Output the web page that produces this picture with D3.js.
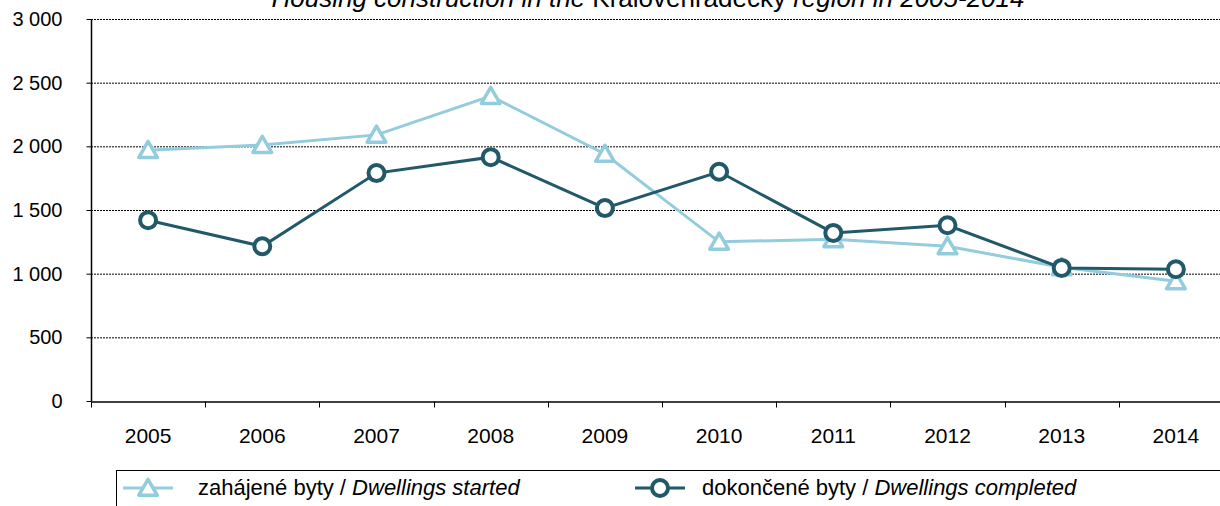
<!DOCTYPE html>
<html lang="en">
  <head>
    <meta charset="utf-8">
    <title>Housing construction</title>
    <style>
      body { margin: 0; background: #fff; }
      svg { display: block; font-family: "Liberation Sans", Arial, sans-serif; }
    </style>
  </head>
  <body>
    <div class="graph"></div>
    <script src="https://d3js.org/d3.v7.min.js"></script>
    <script>
      var years = ['2005', '2006', '2007', '2008', '2009', '2010', '2011', '2012', '2013', '2014'];
      var started = [1970, 2010, 2090, 2395, 1940, 1250, 1270, 1215, 1050, 940];
      var completed = [1420, 1215, 1790, 1915, 1515, 1800, 1320, 1380, 1045, 1035];
      var yTicks = [0, 500, 1000, 1500, 2000, 2500, 3000];

      var lightBlue = '#93cddd',
          darkTeal = '#215968';

      var width = 1220, height = 506;
      var svg = d3.select('.graph').append('svg')
                  .attr('width', width)
                  .attr('height', height);

      var x = d3.scaleBand().domain(years).range([91, 1233]);
      var y = d3.scaleLinear().domain([0, 3000]).range([401, 19]);

      // title (cut off at the top)
      var title = svg.append('text')
                     .attr('x', 648)
                     .attr('y', 7)
                     .attr('text-anchor', 'middle')
                     .style('font-size', '26px');
      title.append('tspan').style('font-style', 'italic').text('Housing construction in the ');
      title.append('tspan').text('Královéhradecký');
      title.append('tspan').style('font-style', 'italic').text(' region in 2005-2014');

      // gridlines
      svg.append('g').selectAll('line')
         .data(yTicks.filter(function(d) { return d > 0; }))
         .enter().append('line')
         .attr('x1', 91).attr('x2', width)
         .attr('y1', function(d) { return y(d) + 0.5; })
         .attr('y2', function(d) { return y(d) + 0.5; })
         .attr('stroke', '#000')
         .attr('stroke-width', 1)
         .attr('stroke-dasharray', '2,1');

      // y axis
      var yAxis = svg.append('g')
                     .attr('transform', 'translate(91.5,0)')
                     .call(d3.axisLeft(y).tickValues(yTicks).tickSize(5).tickPadding(24)
                       .tickFormat(function(d) { return d3.format(',')(d).replace(',', ' '); }));
      yAxis.select('.domain').attr('d', 'M0,' + y(3000) + 'V' + y(0)).attr('stroke', '#000').attr('stroke-width', 1.5);
      yAxis.selectAll('text').style('font-size', '20px').attr('fill', '#000').style('font-family', '"Liberation Sans", Arial, sans-serif');

      // x axis
      var xAxis = svg.append('g')
                     .attr('transform', 'translate(0,401.5)')
                     .call(d3.axisBottom(x).tickSize(0).tickPadding(27));
      xAxis.select('.domain').attr('stroke', '#000').attr('stroke-width', 1.5);
      xAxis.selectAll('text').style('font-size', '21px').attr('fill', '#000').style('font-family', '"Liberation Sans", Arial, sans-serif');
      xAxis.selectAll('.boundary')
           .data(years)
           .enter().append('line')
           .attr('class', 'boundary')
           .attr('x1', function(d) { return Math.round(x(d)) + 0.5; })
           .attr('x2', function(d) { return Math.round(x(d)) + 0.5; })
           .attr('y1', 0).attr('y2', 6)
           .attr('stroke', '#000');

      function cx(d, i) { return x(years[i]) + x.bandwidth() / 2; }

      var line = d3.line()
                   .x(function(d, i) { return cx(d, i); })
                   .y(function(d) { return y(d); });

      var triangle = d3.symbol().type(d3.symbolTriangle).size(150);

      // started series
      svg.append('path')
         .datum(started)
         .attr('d', line)
         .attr('fill', 'none')
         .attr('stroke', lightBlue)
         .attr('stroke-width', 3);
      svg.append('g').selectAll('path')
         .data(started)
         .enter().append('path')
         .attr('d', triangle)
         .attr('transform', function(d, i) { return 'translate(' + cx(d, i) + ',' + (y(d) + 2) + ')'; })
         .attr('fill', '#fff')
         .attr('stroke', lightBlue)
         .attr('stroke-width', 3.5)
         .attr('stroke-linejoin', 'round');

      // completed series
      svg.append('path')
         .datum(completed)
         .attr('d', line)
         .attr('fill', 'none')
         .attr('stroke', darkTeal)
         .attr('stroke-width', 3);
      svg.append('g').selectAll('circle')
         .data(completed)
         .enter().append('circle')
         .attr('cx', cx)
         .attr('cy', function(d) { return y(d); })
         .attr('r', 8)
         .attr('fill', '#fff')
         .attr('stroke', darkTeal)
         .attr('stroke-width', 4);

      // legend
      var legend = svg.append('g');
      legend.append('rect')
            .attr('x', 116.5).attr('y', 470.5)
            .attr('width', 1200).attr('height', 60)
            .attr('fill', 'none')
            .attr('stroke', '#000')
            .attr('stroke-width', 1);

      var items = [
        { x: 148, tx: 198, color: lightBlue, name: 'zahájené byty / ', en: 'Dwellings started', shape: 'tri' },
        { x: 660, tx: 702, color: darkTeal, name: 'dokončené byty / ', en: 'Dwellings completed', shape: 'circle' }
      ];
      items.forEach(function(it) {
        var g = legend.append('g');
        g.append('line')
         .attr('x1', it.x - 25).attr('x2', it.x + 25)
         .attr('y1', 488).attr('y2', 488)
         .attr('stroke', it.color).attr('stroke-width', 3);
        if (it.shape === 'tri') {
          g.append('path').attr('d', triangle)
           .attr('transform', 'translate(' + it.x + ',490)')
           .attr('fill', '#fff').attr('stroke', it.color)
           .attr('stroke-width', 3.5).attr('stroke-linejoin', 'round');
        } else {
          g.append('circle').attr('cx', it.x).attr('cy', 488).attr('r', 8)
           .attr('fill', '#fff').attr('stroke', it.color).attr('stroke-width', 4);
        }
        var t = g.append('text')
                 .attr('x', it.tx).attr('y', 495)
                 .style('font-size', '22px');
        t.append('tspan').text(it.name);
        t.append('tspan').style('font-style', 'italic').text(it.en);
      });
    </script>
  </body>
</html>
